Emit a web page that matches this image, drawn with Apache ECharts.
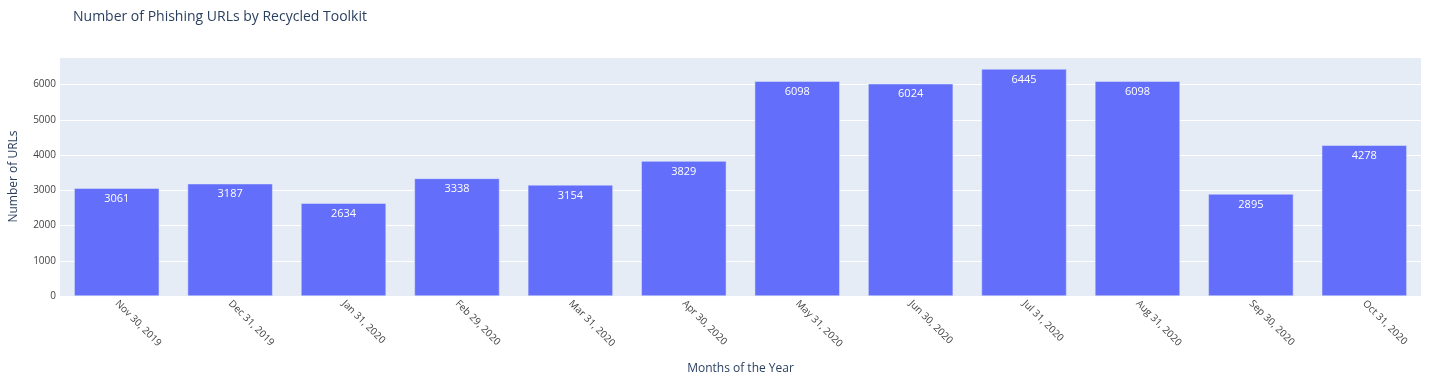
<!DOCTYPE html>
<html>
<head>
<meta charset="utf-8">
<script src="https://cdn.jsdelivr.net/npm/echarts@6/dist/echarts.min.js"></script>
<style>html,body{margin:0;padding:0;background:#fff}#c{width:1440px;height:383px}</style>
</head>
<body>
<div id="c"></div>
<script>
const categories = ["Nov 30, 2019","Dec 31, 2019","Jan 31, 2020","Feb 29, 2020","Mar 31, 2020","Apr 30, 2020","May 31, 2020","Jun 30, 2020","Jul 31, 2020","Aug 31, 2020","Sep 30, 2020","Oct 31, 2020"];
const urlCounts = [3061,3187,2634,3338,3154,3829,6098,6024,6445,6098,2895,4278];
const titleText = "Number of Phishing URLs by Recycled Toolkit";
const xName = "Months of the Year";
const yName = "Number of URLs";

const font = "'Open Sans', 'Noto Sans', sans-serif";
const chart = echarts.init(document.getElementById('c'), null, {renderer:'canvas'});
chart.setOption({
  animation:false,
  textStyle:{fontFamily:font},
  title:{text:titleText,left:68,top:5,textStyle:{fontFamily:font,fontSize:14,fontWeight:'normal',color:'#2a3f5f'}},
  grid:{left:56,right:19,top:57,bottom:87,show:true,backgroundColor:'#E5ECF6',borderWidth:0},
  xAxis:{type:'category',data:categories,name:xName,nameLocation:'middle',nameGap:67,
    nameTextStyle:{fontFamily:font,fontSize:12,color:'#2a3f5f'},
    axisLine:{show:false},axisTick:{show:false},
    axisLabel:{rotate:-45,fontSize:10,color:'#444',fontFamily:font,margin:6,interval:0}},
  yAxis:{type:'value',min:0,max:6784,interval:1000,name:yName,nameLocation:'middle',nameGap:40,
    nameTextStyle:{fontFamily:font,fontSize:12,color:'#2a3f5f'},
    axisLine:{show:false},axisTick:{show:false},
    axisLabel:{showMaxLabel:false,fontSize:10,color:'#444',fontFamily:font,margin:4,formatter:function(v){return String(v);}},
    splitLine:{lineStyle:{color:'#fff',width:1}}},
  series:[{type:'bar',data:urlCounts,barCategoryGap:'25%',
    itemStyle:{color:'#636EFA',borderColor:'#E5ECF6',borderWidth:0.5},
    label:{show:true,position:'insideTop',distance:5,color:'#fff',fontSize:11,fontFamily:font}}]
});
</script>
</body>
</html>
